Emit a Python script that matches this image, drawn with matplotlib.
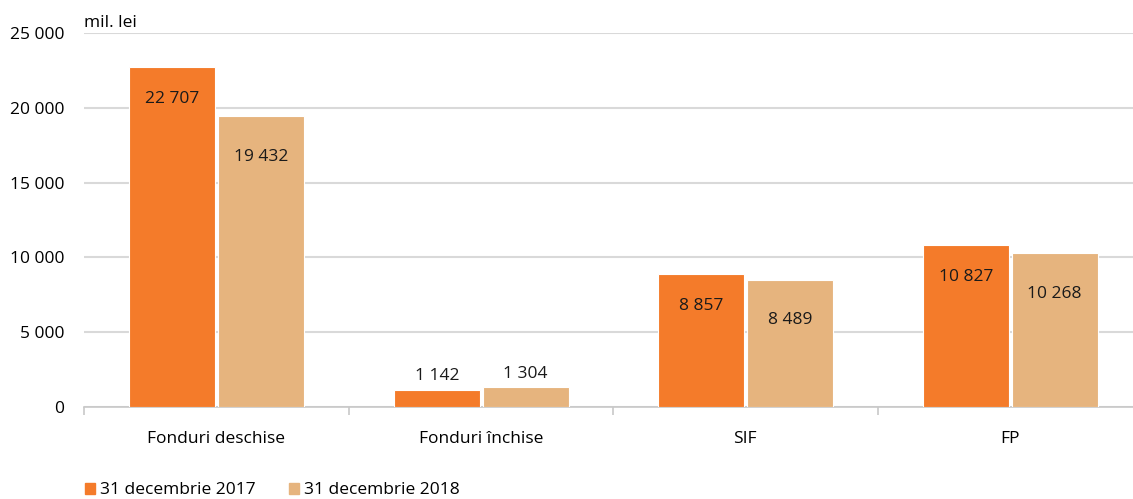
import numpy as np
from matplotlib import pyplot as plt
from matplotlib.patches import Patch

plt.rcParams['font.family'] = ['Open Sans', 'DejaVu Sans']

# data
categories = ['Fonduri deschise', 'Fonduri închise', 'SIF', 'FP']
series_names = ['31 decembrie 2017', '31 decembrie 2018']
values_2017 = [22707, 1142, 8857, 10827]
values_2018 = [19432, 1304, 8489, 10268]
y_ticks = [0, 5000, 10000, 15000, 20000, 25000]

colors = ['#F47B2A', '#E6B47E']


def fmt(v):
    return '{:,}'.format(v).replace(',', ' ')


def main():
    fig = plt.figure(figsize=(11.33, 4.99), dpi=100)
    ax = fig.add_axes([84 / 1133, 92 / 499, 1058 / 1133, 374 / 499])

    x = np.arange(len(categories))
    width = 0.325
    offsets = [-0.166, 0.17]
    fs = 12.5

    for vals, off, col, name in zip([values_2017, values_2018], offsets, colors, series_names):
        bars = ax.bar(x + off, vals, width, color=col, edgecolor='white', linewidth=0.8,
                      label=name, zorder=3)
        for b, v in zip(bars, vals):
            cx = b.get_x() + b.get_width() / 2
            if v > 3000:
                dy = -23 if col == colors[0] else -29
            else:
                dy = 10
            ax.annotate(fmt(v), (cx, v), xytext=(0, dy), textcoords='offset points',
                        ha='center', va='center', fontsize=fs, color='#1a1a1a', zorder=4)

    ax.set_xlim(-0.5, len(categories) - 0.5)
    ax.set_ylim(0, 25000)
    ax.set_yticks(y_ticks)
    ax.set_yticklabels([fmt(t) for t in y_ticks])
    ax.yaxis.grid(True, color='#d9d9d9', linewidth=1.5, zorder=0)
    ax.set_axisbelow(True)

    ax.set_xticks(x)
    ax.set_xticklabels(categories)
    ax.set_xticks(np.arange(len(categories) + 1) - 0.5, minor=True)
    ax.tick_params(axis='x', which='major', length=0, pad=17, labelsize=fs)
    ax.tick_params(axis='x', which='minor', length=6, width=1.2, color='#c8c8c8', direction='out')
    ax.tick_params(axis='y', length=0, pad=14, labelsize=fs)

    for s in ['top', 'right', 'left']:
        ax.spines[s].set_visible(False)
    ax.spines['bottom'].set_color('#c8c8c8')
    ax.spines['bottom'].set_linewidth(1.2)

    ax.text(0, 1.028, 'mil. lei', transform=ax.transAxes, fontsize=fs, ha='left', va='center')

    handles = [Patch(color=c) for c in colors]
    fig.legend(handles, series_names, loc='lower left', bbox_to_anchor=(69 / 1133, -0.03),
               ncol=2, frameon=False, fontsize=fs, handlelength=0.6, handleheight=0.6,
               handletextpad=0.3, columnspacing=1.9)

    fig.savefig('out.png', dpi=100)


if __name__ == '__main__':
    main()
